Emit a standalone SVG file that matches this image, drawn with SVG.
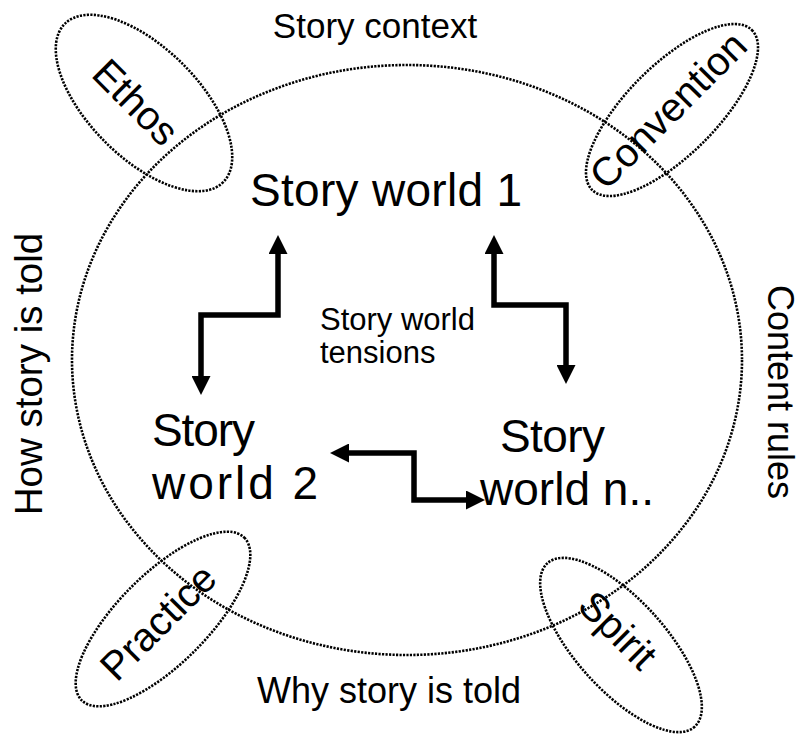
<svg xmlns="http://www.w3.org/2000/svg" width="800" height="737" viewBox="0 0 800 737">
<style>
text{font-family:"Liberation Sans",Arial,sans-serif;fill:#000}
.dot{fill:none;stroke:#000;stroke-width:2.6;stroke-dasharray:2.2 1.3}
.arr{fill:none;stroke:#000;stroke-width:5.5;stroke-linejoin:miter;marker-start:url(#ah);marker-end:url(#ah)}
.big{font-size:46px}
.mid{font-size:40px}
</style>
<defs>
<marker id="ah" markerUnits="userSpaceOnUse" markerWidth="19" markerHeight="19" refX="0" refY="9.5" orient="auto-start-reverse" viewBox="0 0 19 19">
<path d="M0,0 L19,9.5 L0,19 Z" fill="#000"/>
</marker>
</defs>
<rect width="800" height="737" fill="#fff"/>
<g id="context">
<ellipse class="dot" cx="407" cy="360" rx="335" ry="295"/>
</g>
<g id="ethos">
<ellipse class="dot" cx="0" cy="0" rx="112" ry="55" transform="translate(144,103) rotate(45)"/>
<text class="mid" text-anchor="middle" y="14" transform="translate(136,102) rotate(45)">Ethos</text>
</g>
<g id="convention">
<ellipse class="dot" cx="0" cy="0" rx="113" ry="45" transform="translate(672,110) rotate(-45)"/>
<text class="mid" text-anchor="middle" y="14" transform="translate(668,110) rotate(-45)">Convention</text>
</g>
<g id="practice">
<ellipse class="dot" cx="0" cy="0" rx="115" ry="45" transform="translate(163,619) rotate(-45)"/>
<text class="mid" text-anchor="middle" y="14" transform="translate(158,622) rotate(-45)">Practice</text>
</g>
<g id="spirit">
<ellipse class="dot" cx="0" cy="0" rx="110" ry="45" transform="translate(621,645) rotate(48)"/>
<text class="mid" text-anchor="middle" y="14" transform="translate(618,630) rotate(45)">Spirit</text>
</g>
<g id="labels">
<text x="375" y="38" text-anchor="middle" font-size="35">Story context</text>
<text x="389" y="703" text-anchor="middle" font-size="36">Why story is told</text>
<text text-anchor="middle" font-size="38.5" transform="translate(42,374) rotate(-90)">How story is told</text>
<text text-anchor="middle" font-size="36" transform="translate(768,392) rotate(90)">Content rules</text>
<text x="320" y="330" font-size="31" textLength="155">Story world</text>
<text x="320" y="363" font-size="31">tensions</text>
</g>
<g id="world1">
<text class="big" x="250" y="206" textLength="272">Story world 1</text>
</g>
<g id="world2">
<text class="big" x="152" y="446" textLength="103">Story</text>
<text class="big" x="152" y="499" textLength="166">world 2</text>
</g>
<g id="worldn">
<text class="big" x="500" y="452" textLength="105">Story</text>
<text class="big" x="480" y="505" textLength="174">world n..</text>
</g>
<g id="connectors">
<polyline class="arr" points="278,254 278,315 201,315 201,376"/>
<polyline class="arr" points="494,254 494,305 566,305 566,365"/>
<polyline class="arr" points="349,453 414,453 414,500 466,500"/>
</g>
</svg>
